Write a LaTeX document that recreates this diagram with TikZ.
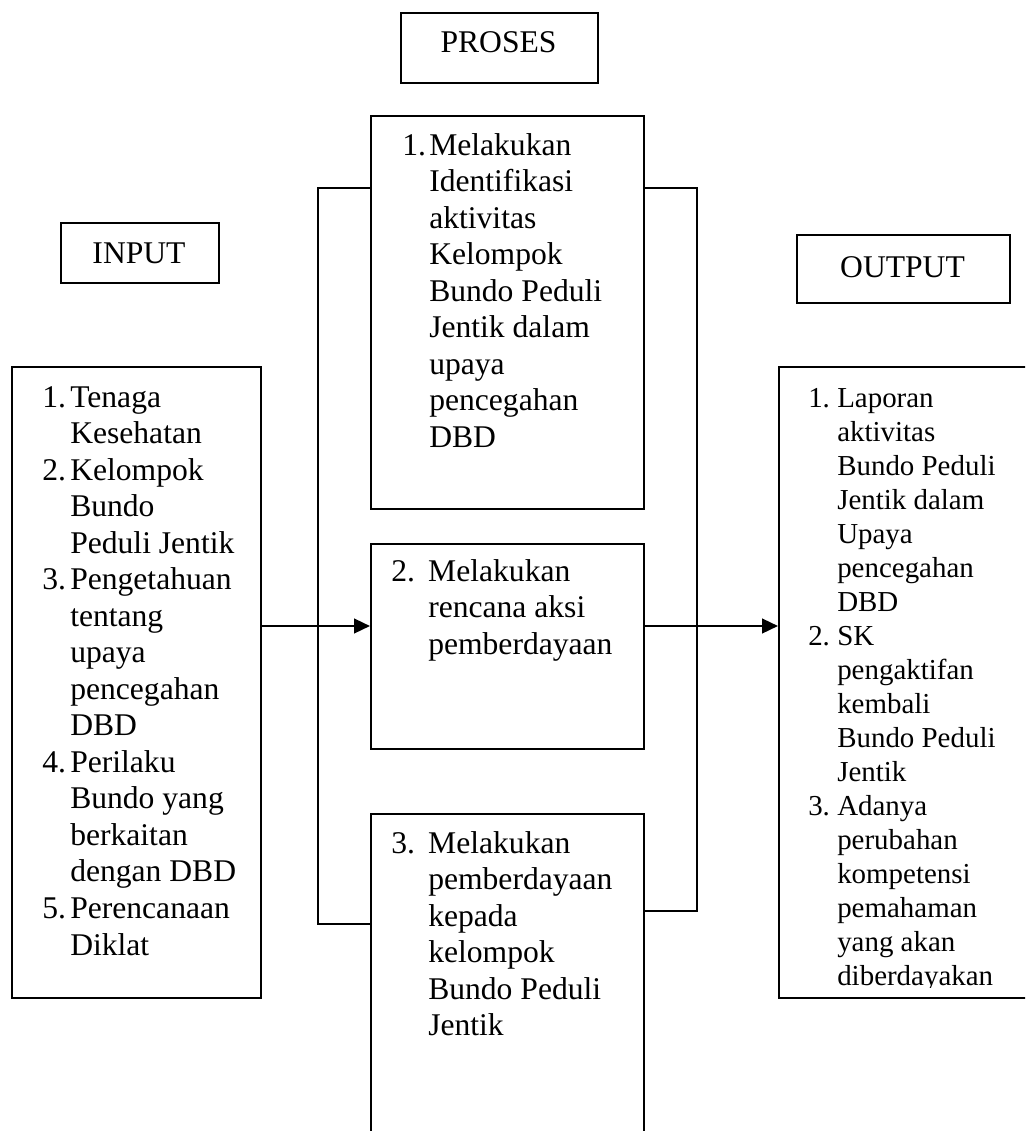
\documentclass[tikz,border=0pt]{standalone}
\usepackage{fontspec}
\setmainfont{Liberation Serif}
\usetikzlibrary{arrows.meta,calc}
\begin{document}
\begin{tikzpicture}[x=0.75pt,y=-0.75pt,
  box/.style={draw,line width=1.8pt,inner sep=0pt,anchor=north west},
  hdr/.style={inner sep=0pt,anchor=base,font=\fontsize{23.7}{27.4}\selectfont},
  txt/.style={inner sep=0pt,anchor=base west,font=\fontsize{23.7}{27.4}\selectfont},
  stxt/.style={inner sep=0pt,anchor=base west,font=\fontsize{21.7}{25.5}\selectfont},
  conn/.style={line width=1.8pt},
  arr/.style={conn,-{Triangle[length=12pt,width=11pt]}}]
\clip (0,0) rectangle (1025,1131);
% header boxes
\node[box,minimum width=147.75pt,minimum height=52.5pt] (proses) at (400,12) {};
\node[hdr] (prosest) at (498.5,53) {PROSES};
\node[box,minimum width=118.5pt,minimum height=45pt] (input) at (60,222) {};
\node[hdr] (inputt) at (139,263) {INPUT};
\node[box,minimum width=159.75pt,minimum height=51pt] (output) at (796,234) {};
\node[hdr] (outputt) at (902.5,277) {OUTPUT};
% main boxes
\node[box,minimum width=186.75pt,minimum height=473.25pt] (inlist) at (11,366) {};
\node[box,minimum width=204.75pt,minimum height=294.75pt] (p1) at (370,115) {};
\node[box,minimum width=204.75pt,minimum height=153.75pt] (p2) at (370,543) {};
\node[box,minimum width=204.75pt,minimum height=270pt] (p3) at (370,813) {};
\node[box,minimum width=198pt,minimum height=473.25pt] (outlist) at (778,366) {};
% texts
\node[txt] (inlistt) at (42,407) {\begin{tabular}[t]{@{}p{21pt}@{}l@{}}
1. & Tenaga\\ & Kesehatan\\ 2. & Kelompok\\ & Bundo\\ & Peduli Jentik\\
3. & Pengetahuan\\ & tentang\\ & upaya\\ & pencegahan\\ & DBD\\
4. & Perilaku\\ & Bundo yang\\ & berkaitan\\ & dengan DBD\\
5. & Perencanaan\\ & Diklat\end{tabular}};
\node[txt] (p1t) at (402,155) {\begin{tabular}[t]{@{}p{20.25pt}@{}l@{}}
1. & Melakukan\\ & Identifikasi\\ & aktivitas\\ & Kelompok\\ & Bundo Peduli\\
& Jentik dalam\\ & upaya\\ & pencegahan\\ & DBD\end{tabular}};
\node[txt] (p2t) at (391,581) {\begin{tabular}[t]{@{}p{27.75pt}@{}l@{}}
2. & Melakukan\\ & rencana aksi\\ & pemberdayaan\end{tabular}};
\node[txt] (p3t) at (391,853) {\begin{tabular}[t]{@{}p{27.75pt}@{}l@{}}
3. & Melakukan\\ & pemberdayaan\\ & kepada\\ & kelompok\\ & Bundo Peduli\\
& Jentik\end{tabular}};
\begin{scope}
\clip (778,366) rectangle (1025,987);
\node[stxt] (outlistt) at (808,407) {\begin{tabular}[t]{@{}p{21.75pt}@{}l@{}}
1. & Laporan\\ & aktivitas\\ & Bundo Peduli\\ & Jentik dalam\\ & Upaya\\
& pencegahan\\ & DBD\\
2. & SK\\ & pengaktifan\\ & kembali\\ & Bundo Peduli\\ & Jentik\\
3. & Adanya\\ & perubahan\\ & kompetensi\\ & pemahaman\\ & yang akan\\
& diberdayakan\end{tabular}};
\end{scope}
% connectors
\coordinate (ay) at (0,626);
\coordinate (l1) at (318,188);
\coordinate (l2) at (318,924);
\coordinate (r1) at (697,188);
\coordinate (r2) at (697,911);
\draw[conn] (p1.west |- l1) -- (l1) -- (l2) -- (p3.west |- l2);
\draw[conn] (p1.east |- r1) -- (r1) -- (r2) -- (p3.east |- r2);
\draw[arr] (inlist.east |- ay) -- (p2.west |- ay);
\draw[arr] (p2.east |- ay) -- (outlist.west |- ay);
\end{tikzpicture}
\end{document}
